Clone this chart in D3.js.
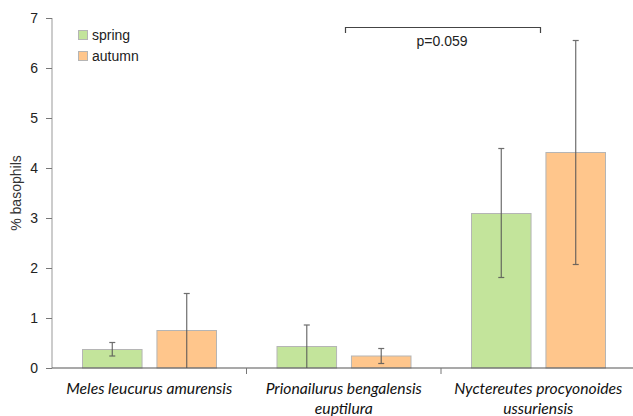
<!DOCTYPE html>
<html><head><meta charset="utf-8">
<script src="https://cdn.jsdelivr.net/npm/d3@7"></script>
<style>body{margin:0;background:#fff}svg{display:block}</style>
</head><body>
<script>
const categories = [["Meles leucurus amurensis"], ["Prionailurus bengalensis", "euptilura"], ["Nyctereutes procyonoides", "ussuriensis"]];
const seriesNames = ["spring", "autumn"];
const springMean = [0.37, 0.43, 3.09];
const springLow = [0.24, 0.0, 1.81];
const springHigh = [0.51, 0.86, 4.39];
const autumnMean = [0.75, 0.24, 4.31];
const autumnLow = [0.0, 0.09, 2.07];
const autumnHigh = [1.49, 0.39, 6.55];
const yTicks = [0, 1, 2, 3, 4, 5, 6, 7];
const pLabel = "p=0.059";
const colors = ["#C3E49B", "#FFC68C"];

const W = 633, H = 416;
const FONT = "'Liberation Sans', Arial, sans-serif";
const svg = d3.select("body").append("svg").attr("width", W).attr("height", H);
const y = d3.scaleLinear().domain([0, 7]).range([368, 18]);
const x0 = d3.scaleBand().domain(d3.range(categories.length)).range([52, 635.5]).paddingInner(0).paddingOuter(0);
const x1 = d3.scaleBand().domain(d3.range(2)).range([30.5, 164.5]).paddingInner(0.2).paddingOuter(0);

const data = categories.map((c, i) => [
  {m: springMean[i], lo: springLow[i], hi: springHigh[i], s: 0},
  {m: autumnMean[i], lo: autumnLow[i], hi: autumnHigh[i], s: 1}
]);

// y axis
const yAxis = svg.append("g").attr("transform", "translate(52,0)")
  .call(d3.axisLeft(y).tickValues(yTicks).tickFormat(d3.format("d")).tickSize(6).tickPadding(8));
yAxis.attr("font-family", null).attr("font-size", null);
yAxis.select(".domain").attr("stroke", "#999").attr("d", "M0,18V368");
yAxis.selectAll(".tick line").attr("stroke", "#777");
yAxis.selectAll("text").style("font-family", FONT).style("font-size", "14px").attr("fill", "#222");

svg.append("text").attr("transform", "translate(21,193) rotate(-90)")
  .attr("text-anchor", "middle").style("font-family", FONT)
  .style("font-size", "14px").attr("fill", "#333").text("% basophils");

// bars
const g = svg.append("g");
data.forEach((grp, i) => {
  const gx = x0(i);
  grp.forEach(d => {
    g.append("rect")
      .attr("x", gx + x1(d.s)).attr("y", y(d.m))
      .attr("width", x1.bandwidth()).attr("height", y(0) - y(d.m))
      .attr("fill", colors[d.s]).attr("stroke", "#b5b5b5").attr("stroke-width", 1);
  });
});
// error bars
data.forEach((grp, i) => {
  const gx = x0(i);
  grp.forEach(d => {
    const cx = gx + x1(d.s) + x1.bandwidth() / 2;
    const eg = g.append("g").attr("stroke", "#555").attr("stroke-width", 1.2).attr("opacity", 0.85);
    eg.append("line").attr("x1", cx).attr("x2", cx).attr("y1", y(d.lo)).attr("y2", y(d.hi));
    eg.append("line").attr("x1", cx - 3).attr("x2", cx + 3).attr("y1", y(d.hi)).attr("y2", y(d.hi));
    if (d.lo > 0) eg.append("line").attr("x1", cx - 3).attr("x2", cx + 3).attr("y1", y(d.lo)).attr("y2", y(d.lo));
  });
});

// x axis
svg.append("line").attr("x1", 52).attr("x2", 635).attr("y1", y(0)).attr("y2", y(0)).attr("stroke", "#555").attr("stroke-width", 1.2);
const xTickPos = [1, 2].map(i => x0(i));
svg.selectAll(".xt").data(xTickPos).enter().append("line")
  .attr("x1", d => d).attr("x2", d => d).attr("y1", y(0)).attr("y2", y(0) + 6).attr("stroke", "#777");

categories.forEach((lines, i) => {
  const cx = x0(i) + x0.bandwidth() / 2;
  const t = svg.append("text").attr("text-anchor", "middle").style("font-family", "Lato, sans-serif")
    .style("font-style", "italic").style("font-size", "15.7px").attr("fill", "#111");
  lines.forEach((l, k) => t.append("tspan").attr("x", cx).attr("y", 393.5 + k * 20).text(l));
});

// legend
seriesNames.forEach((n, i) => {
  const ly = 30 + i * 21;
  svg.append("rect").attr("x", 78.5).attr("y", ly + 0.5).attr("width", 9).attr("height", 9)
    .attr("fill", colors[i]).attr("stroke", "#b5b5b5");
  svg.append("text").attr("x", 92).attr("y", ly + 9.5).style("font-family", FONT)
    .style("font-size", "14px").attr("fill", "#222").text(n);
});

// significance bracket
svg.append("path").attr("d", `M345.5,33V27.5H540.5V33`).attr("fill", "none").attr("stroke", "#444").attr("stroke-width", 1.2);
svg.append("text").attr("x", 442).attr("y", 46).attr("text-anchor", "middle")
  .style("font-family", FONT).style("font-size", "14px").attr("fill", "#222").text(pLabel);
</script>
</body></html>
